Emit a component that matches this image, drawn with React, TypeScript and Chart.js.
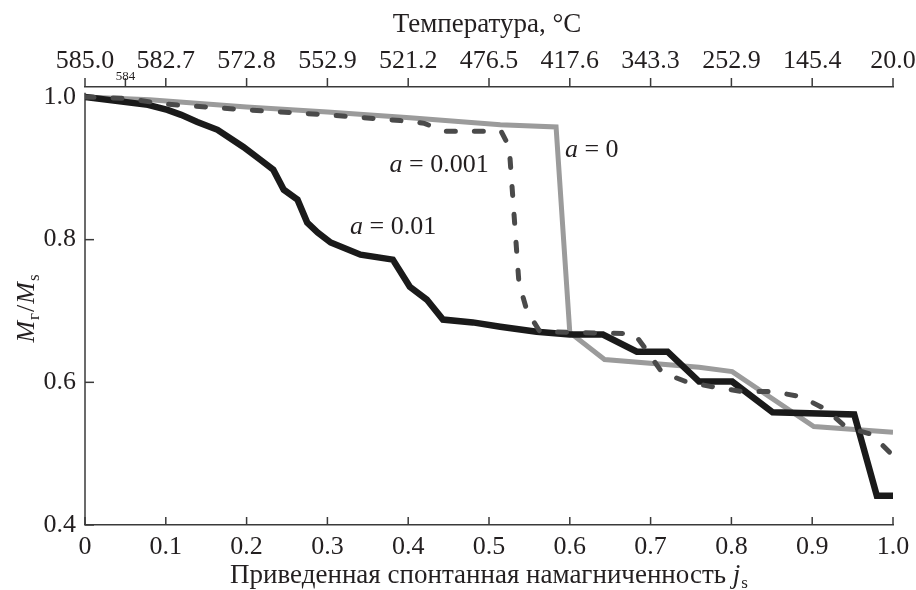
import React, { useEffect, useRef } from "react";
import { Chart, registerables } from "chart.js";

Chart.register(...registerables);

// ---- data ----
const jsTicks = [0, 0.1, 0.2, 0.3, 0.4, 0.5, 0.6, 0.7, 0.8, 0.9, 1.0];
const tempLabels = ["585.0", "582.7", "572.8", "552.9", "521.2", "476.5", "417.6", "343.3", "252.9", "145.4", "20.0"];
const minorTempTick = 0.05;
const minorTempLabel = "584";
const yTicks = [0.4, 0.6, 0.8, 1.0];

const xA0 = [0, 0.08, 0.2, 0.3, 0.402, 0.514, 0.583, 0.6, 0.643, 0.76, 0.801, 0.902, 1.0];
const yA0 = [1.0, 0.996, 0.986, 0.979, 0.971, 0.961, 0.958, 0.67, 0.632, 0.621, 0.615, 0.538, 0.53];

const xA001 = [0, 0.05, 0.1, 0.2, 0.3, 0.39, 0.42, 0.445, 0.515, 0.525, 0.537, 0.547, 0.563, 0.68, 0.695, 0.714, 0.746, 0.781, 0.814, 0.851, 0.886, 0.917, 0.942, 0.974, 1.0];
const yA001 = [1.0, 0.998, 0.99, 0.982, 0.975, 0.967, 0.963, 0.952, 0.952, 0.93, 0.74, 0.7, 0.671, 0.668, 0.645, 0.614, 0.6, 0.593, 0.587, 0.587, 0.58, 0.562, 0.537, 0.527, 0.497];

const xA01 = [0, 0.078, 0.102, 0.119, 0.139, 0.164, 0.196, 0.217, 0.233, 0.246, 0.263, 0.275, 0.288, 0.304, 0.341, 0.381, 0.402, 0.423, 0.443, 0.48, 0.514, 0.559, 0.6, 0.641, 0.683, 0.721, 0.76, 0.801, 0.851, 0.952, 0.98, 1.0];
const yA01 = [1.0, 0.989, 0.982, 0.975, 0.965, 0.954, 0.93, 0.912, 0.898, 0.87, 0.856, 0.824, 0.81, 0.796, 0.779, 0.772, 0.734, 0.716, 0.688, 0.684, 0.678, 0.671, 0.667, 0.667, 0.643, 0.643, 0.601, 0.601, 0.558, 0.555, 0.441, 0.441];

const seriesNames = ["a = 0.001", "a = 0.01", "a = 0"];

const FONT = "'Liberation Serif', 'DejaVu Serif', serif";
const TXT = "#231f20";
const AXIS = "#3a3a3a";
const TICK_SIZE = 26;
const TITLE_SIZE = 27;
const SUB_SIZE = 17;

const toPts = (xs: number[], ys: number[]) => xs.map((x, i) => ({ x, y: ys[i] }));

// curve annotations: [valueText, x, y]
const annotations: [string, number, number][] = [
  ["0.001", 0.377, 0.908],
  ["0.01", 0.328, 0.821],
  ["0", 0.594, 0.929],
];

const decorPlugin = {
  id: "decor",
  beforeDatasetsDraw(chart: any) {
    const ctx = chart.ctx as CanvasRenderingContext2D;
    const x = chart.scales.x;
    const x2 = chart.scales.x2;
    const y = chart.scales.y;
    const area = chart.chartArea;
    ctx.save();
    ctx.strokeStyle = AXIS;
    ctx.lineWidth = 1.5;
    // left axis line
    ctx.beginPath();
    ctx.moveTo(area.left, y.getPixelForValue(1.006));
    ctx.lineTo(area.left, area.bottom);
    ctx.stroke();
    // bottom ticks (inward)
    jsTicks.forEach((v) => {
      const px = x.getPixelForValue(v);
      ctx.beginPath();
      ctx.moveTo(px, area.bottom);
      ctx.lineTo(px, area.bottom - 8);
      ctx.stroke();
    });
    // top ticks (outward)
    [...jsTicks, minorTempTick].forEach((v) => {
      const px = x2.getPixelForValue(v);
      ctx.beginPath();
      ctx.moveTo(px, area.top);
      ctx.lineTo(px, area.top - 9);
      ctx.stroke();
    });
    // left ticks (inward)
    yTicks.forEach((v) => {
      const py = y.getPixelForValue(v);
      ctx.beginPath();
      ctx.moveTo(area.left, py);
      ctx.lineTo(area.left + 9, py);
      ctx.stroke();
    });
    // minor top label
    ctx.fillStyle = TXT;
    ctx.font = `13px ${FONT}`;
    ctx.textAlign = "center";
    ctx.textBaseline = "alphabetic";
    ctx.fillText(minorTempLabel, x2.getPixelForValue(minorTempTick), area.top - 7);
    ctx.restore();
  },
  afterDraw(chart: any) {
    const ctx = chart.ctx as CanvasRenderingContext2D;
    const x = chart.scales.x;
    const y = chart.scales.y;
    const area = chart.chartArea;
    ctx.save();
    ctx.fillStyle = TXT;
    ctx.textBaseline = "alphabetic";
    const cx = (area.left + area.right) / 2;

    // top title
    ctx.font = `${TITLE_SIZE}px ${FONT}`;
    ctx.textAlign = "center";
    ctx.fillText("Температура, °C", cx - 2, 32);

    // bottom title with italic j and subscript s
    const main = "Приведенная спонтанная намагниченность ";
    ctx.font = `${TITLE_SIZE}px ${FONT}`;
    const w1 = ctx.measureText(main).width;
    ctx.font = `italic ${TITLE_SIZE}px ${FONT}`;
    const w2 = ctx.measureText("j").width;
    ctx.font = `${SUB_SIZE}px ${FONT}`;
    const w3 = ctx.measureText("s").width;
    let sx = cx - (w1 + w2 + w3 + 1) / 2;
    const by = 583;
    ctx.textAlign = "left";
    ctx.font = `${TITLE_SIZE}px ${FONT}`;
    ctx.fillText(main, sx, by);
    sx += w1;
    ctx.font = `italic ${TITLE_SIZE}px ${FONT}`;
    ctx.fillText("j", sx, by);
    sx += w2 + 1;
    ctx.font = `${SUB_SIZE}px ${FONT}`;
    ctx.fillText("s", sx, by + 5);

    // y title rotated
    ctx.save();
    ctx.translate(34, 308);
    ctx.rotate(-Math.PI / 2);
    const parts: [string, string, number][] = [
      ["M", `italic ${TICK_SIZE}px ${FONT}`, 0],
      ["г", `${SUB_SIZE}px ${FONT}`, 5],
      ["/", `${TICK_SIZE}px ${FONT}`, 0],
      ["M", `italic ${TICK_SIZE}px ${FONT}`, 0],
      ["s", `${SUB_SIZE}px ${FONT}`, 5],
    ];
    let total = 0;
    parts.forEach(([t, f]) => {
      ctx.font = f;
      total += ctx.measureText(t).width + 1;
    });
    let px = -total / 2;
    parts.forEach(([t, f, dy]) => {
      ctx.font = f;
      ctx.fillText(t, px, dy);
      px += ctx.measureText(t).width + 1;
    });
    ctx.restore();

    // curve annotations
    annotations.forEach(([val, ax, ay]) => {
      let ux = x.getPixelForValue(ax);
      const uy = y.getPixelForValue(ay) + 9;
      ctx.font = `italic ${TICK_SIZE}px ${FONT}`;
      ctx.fillText("a", ux, uy);
      ux += ctx.measureText("a").width;
      ctx.font = `${TICK_SIZE}px ${FONT}`;
      ctx.fillText(" = " + val, ux, uy);
    });
    ctx.restore();
  },
};

const zeroSidePadding = (s: any) => {
  s.paddingLeft = 0;
  s.paddingRight = 0;
};

export default function App() {
  const ref = useRef<HTMLCanvasElement | null>(null);

  useEffect(() => {
    if (!ref.current) return;
    const chart = new Chart(ref.current, {
      type: "line",
      data: {
        datasets: [
          {
            label: seriesNames[0],
            data: toPts(xA001, yA001),
            borderColor: "#4a4a4a",
            borderWidth: 5,
            borderDash: [9, 19],
            borderCapStyle: "round",
            pointRadius: 0,
            tension: 0,
            xAxisID: "x",
            yAxisID: "y",
          },
          {
            label: seriesNames[1],
            data: toPts(xA01, yA01),
            borderColor: "#1a1a1a",
            borderWidth: 6.5,
            borderJoinStyle: "miter",
            pointRadius: 0,
            tension: 0,
            xAxisID: "x",
            yAxisID: "y",
          },
          {
            label: seriesNames[2],
            data: toPts(xA0, yA0),
            borderColor: "#9b9b9b",
            borderWidth: 5,
            pointRadius: 0,
            tension: 0,
            xAxisID: "x",
            yAxisID: "y",
          },
        ],
      },
      options: {
        animation: false,
        responsive: false,
        maintainAspectRatio: false,
        layout: { padding: { left: 0, right: 23, top: 0, bottom: 0 } },
        plugins: { legend: { display: false }, tooltip: { enabled: false } },
        scales: {
          x: {
            type: "linear",
            position: "bottom",
            min: 0,
            max: 1,
            afterBuildTicks: (s: any) => {
              s.ticks = jsTicks.map((v) => ({ value: v }));
            },
            afterFit: (s: any) => {
              s.height = 65;
              zeroSidePadding(s);
            },
            grid: { display: false, drawTicks: false },
            border: { display: true, color: AXIS, width: 1.5 },
            ticks: {
              color: TXT,
              font: { family: FONT, size: TICK_SIZE },
              padding: 7,
              maxRotation: 0,
              autoSkip: false,
              callback: (v: any) => (v === 0 ? "0" : Number(v).toFixed(1)),
            },
          },
          x2: {
            type: "linear",
            position: "top",
            min: 0,
            max: 1,
            afterBuildTicks: (s: any) => {
              s.ticks = jsTicks.map((v) => ({ value: v }));
            },
            afterFit: (s: any) => {
              s.height = 87;
              zeroSidePadding(s);
            },
            grid: { display: false, drawTicks: false },
            border: { display: true, color: AXIS, width: 1.5 },
            ticks: {
              color: TXT,
              font: { family: FONT, size: TICK_SIZE },
              padding: 10,
              maxRotation: 0,
              autoSkip: false,
              callback: (_v: any, i: number) => tempLabels[i],
            },
          },
          y: {
            type: "linear",
            position: "left",
            min: 0.4,
            max: 1.014,
            afterBuildTicks: (s: any) => {
              s.ticks = yTicks.map((v) => ({ value: v }));
            },
            afterFit: (s: any) => {
              s.width = 85;
              s.paddingTop = 0;
              s.paddingBottom = 0;
            },
            grid: { display: false, drawTicks: false },
            border: { display: false },
            ticks: {
              color: TXT,
              font: { family: FONT, size: TICK_SIZE },
              padding: 9,
              callback: (v: any) => Number(v).toFixed(1),
            },
          },
        },
      } as any,
      plugins: [decorPlugin],
    });
    return () => chart.destroy();
  }, []);

  return (
    <div style={{ position: "fixed", left: 0, top: 0, width: 916, height: 590, background: "#fff" }}>
      <canvas ref={ref} width={916} height={590} style={{ width: 916, height: 590 }} />
    </div>
  );
}
